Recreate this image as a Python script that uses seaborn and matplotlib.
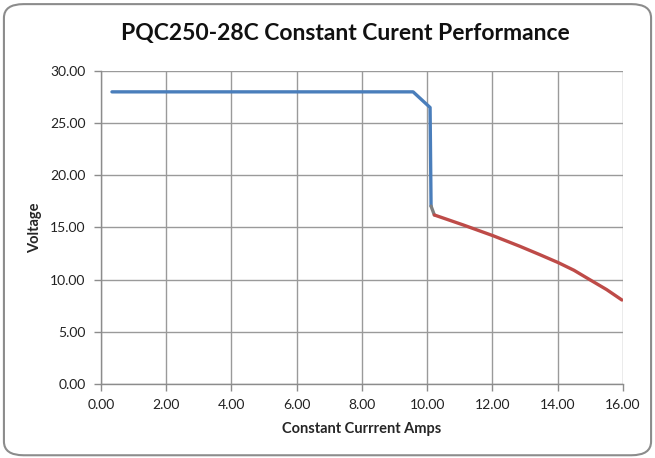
import matplotlib
matplotlib.use("Agg")
import matplotlib.pyplot as plt
import seaborn as sns
import pandas as pd
from matplotlib.patches import FancyBboxPatch

# Data
blue_x = [0.34, 9.57, 10.09, 10.12]
blue_y = [28.0, 28.0, 26.5, 17.05]
gray_x = [10.12, 10.22]
gray_y = [17.05, 16.2]
red_x = [10.22, 11.1, 12.03, 12.84, 13.45, 14.02, 14.5, 15.0, 15.5, 15.97]
red_y = [16.2, 15.25, 14.2, 13.2, 12.4, 11.63, 10.9, 9.97, 9.05, 8.05]

x_ticks = [0, 2, 4, 6, 8, 10, 12, 14, 16]
y_ticks = [0, 5, 10, 15, 20, 25, 30]

sns.set_theme(style="white")
plt.rcParams['font.family'] = ['Lato', 'DejaVu Sans']

fig = plt.figure(figsize=(6.55, 4.58), dpi=100)
fig.patch.set_facecolor("white")
border = FancyBboxPatch((0.006, 0.006), 0.988, 0.985,
                        boxstyle="round,pad=0,rounding_size=0.03",
                        transform=fig.transFigure, facecolor="none",
                        edgecolor="#8c8c8c", linewidth=1.5, zorder=-1)
fig.patches.append(border)

ax = fig.add_axes([0.154, 0.1616, 0.797, 0.6834])
ax.set_facecolor("none")

df_b = pd.DataFrame({"x": blue_x, "y": blue_y})
df_g = pd.DataFrame({"x": gray_x, "y": gray_y})
df_r = pd.DataFrame({"x": red_x, "y": red_y})
sns.lineplot(data=df_b, x="x", y="y", sort=False, ax=ax, color="#4a7ebb", linewidth=2.4, zorder=3)
sns.lineplot(data=df_g, x="x", y="y", sort=False, ax=ax, color="#7f7f7f", linewidth=2.4, zorder=3)
sns.lineplot(data=df_r, x="x", y="y", sort=False, ax=ax, color="#be4b48", linewidth=2.4, zorder=3)

ax.set_xlim(0, 16)
ax.set_ylim(0, 30)
ax.set_xticks(x_ticks)
ax.set_yticks(y_ticks)
ax.set_xticklabels([f"{v:.2f}" for v in x_ticks], fontsize=10, color="#222222")
ax.set_yticklabels([f"{v:.2f}" for v in y_ticks], fontsize=10, color="#222222")
ax.grid(True, color="#9a9a9a", linewidth=1.0)
ax.set_axisbelow(True)
for s in ["top", "right"]:
    ax.spines[s].set_visible(False)
for s in ["left", "bottom"]:
    ax.spines[s].set_color("#8c8c8c")
    ax.spines[s].set_linewidth(1.0)
ax.tick_params(axis="both", direction="out", length=5, width=1, color="#8c8c8c", pad=6,
               bottom=True, left=True)

ax.set_xlabel("Constant Currrent Amps", fontsize=10.5, fontweight="bold", labelpad=8)
ax.set_ylabel("Voltage", fontsize=10.5, fontweight="bold", labelpad=6)

fig.text(0.528, 0.926, "PQC250-28C Constant Curent Performance", ha="center", va="center",
         fontsize=16.5, fontweight="bold", color="#111111")

fig.savefig("out.png", dpi=100)
